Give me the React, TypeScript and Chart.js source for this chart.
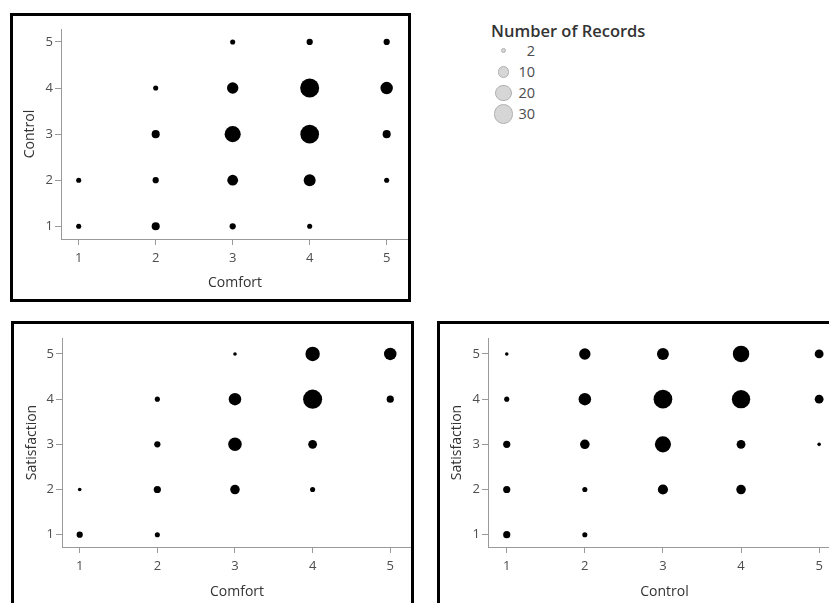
import React, { useEffect, useRef } from "react";
import { Chart, registerables } from "chart.js";

Chart.register(...registerables);

// ---- data ----
const tickValues = [1, 2, 3, 4, 5];

// rows: y level 1..5, columns: x level 1..5 ; values = Number of Records
const comfortControlCounts: (number | null)[][] = [
  [2, 5, 3, 2, null], // Control 1
  [2, 3, 9, 11, 2], // Control 2
  [null, 5, 20, 27, 5], // Control 3
  [null, 2, 10, 28, 12], // Control 4
  [null, null, 2, 3, 3], // Control 5
];

const comfortSatisfactionCounts: (number | null)[][] = [
  [3, 2, null, null, null], // Satisfaction 1
  [1, 4, 7, 2, null], // Satisfaction 2
  [null, 3, 14, 6, null], // Satisfaction 3
  [null, 2, 12, 28, 4], // Satisfaction 4
  [null, null, 1, 16, 12], // Satisfaction 5
];

const controlSatisfactionCounts: (number | null)[][] = [
  [4, 2, null, null, null], // Satisfaction 1
  [4, 2, 8, 7, null], // Satisfaction 2
  [4, 7, 20, 6, 1], // Satisfaction 3
  [2, 12, 27, 26, 6], // Satisfaction 4
  [1, 10, 11, 21, 6], // Satisfaction 5
];

const legendTitle = "Number of Records";
const legendValues = [2, 10, 20, 30];

// ---- styling ----
const FONT = "'Open Sans', 'Noto Sans', sans-serif";
const AXIS_COLOR = "#9a9a9a";
const TICK_COLOR = "#4d4d4d";
const TITLE_COLOR = "#333333";
const sizeOf = (n: number) => 1.8 * Math.sqrt(n);

function toPoints(matrix: (number | null)[][]) {
  const pts: { x: number; y: number; r: number }[] = [];
  matrix.forEach((row, yi) =>
    row.forEach((n, xi) => {
      if (n != null) pts.push({ x: tickValues[xi], y: tickValues[yi], r: sizeOf(n) });
    })
  );
  return pts;
}

type Spec = {
  counts: (number | null)[][];
  xTitle: string;
  yTitle: string;
  left: number;
  top: number;
  width: number;
  height: number;
  xMin: number;
  xMax: number;
  yMin: number;
  yMax: number;
  padTop: number;
  padRight: number;
  yAxisWidth: number;
  xAxisHeight: number;
  yTitlePad: number;
  xTitlePad: number;
};

function BubbleChart({ spec }: { spec: Spec }) {
  const ref = useRef<HTMLCanvasElement>(null);
  useEffect(() => {
    const setTicks = (axis: any) => {
      axis.ticks = tickValues.map((v) => ({ value: v }));
    };
    const chart = new Chart(ref.current!, {
      type: "bubble",
      data: {
        datasets: [
          {
            data: toPoints(spec.counts),
            backgroundColor: "#000000",
            borderWidth: 0,
            hoverBorderWidth: 0,
            clip: false as any,
          },
        ],
      },
      options: {
        animation: false,
        responsive: false,
        events: [],
        layout: {
          autoPadding: false,
          padding: { top: spec.padTop, right: spec.padRight, left: 0, bottom: 0 },
        },
        plugins: { legend: { display: false }, tooltip: { enabled: false } },
        scales: {
          x: {
            type: "linear",
            min: spec.xMin,
            max: spec.xMax,
            afterBuildTicks: setTicks,
            afterFit: (s: any) => {
              s.height = spec.xAxisHeight;
              s.paddingLeft = 0;
              s.paddingRight = 0;
            },
            grid: { drawOnChartArea: false, drawTicks: true, tickLength: 6, color: AXIS_COLOR },
            border: { display: true, color: AXIS_COLOR, width: 1 },
            ticks: {
              font: { family: FONT, size: 13 },
              color: TICK_COLOR,
              padding: 5,
              autoSkip: false,
              maxRotation: 0,
            },
            title: {
              display: true,
              text: spec.xTitle,
              font: { family: FONT, size: 14 },
              color: TITLE_COLOR,
              padding: { top: 0, bottom: spec.xTitlePad },
            },
          },
          y: {
            type: "linear",
            min: spec.yMin,
            max: spec.yMax,
            afterBuildTicks: setTicks,
            afterFit: (s: any) => {
              s.width = spec.yAxisWidth;
              s.paddingTop = 0;
              s.paddingBottom = 0;
            },
            grid: { drawOnChartArea: false, drawTicks: true, tickLength: 6, color: AXIS_COLOR },
            border: { display: true, color: AXIS_COLOR, width: 1 },
            ticks: {
              font: { family: FONT, size: 13 },
              color: TICK_COLOR,
              padding: 2,
              autoSkip: false,
            },
            title: {
              display: true,
              text: spec.yTitle,
              font: { family: FONT, size: 14 },
              color: TITLE_COLOR,
              padding: { top: spec.yTitlePad, bottom: 0 },
            },
          },
        },
      },
    } as any);
    return () => chart.destroy();
  }, [spec]);
  return (
    <canvas
      ref={ref}
      width={spec.width}
      height={spec.height}
      style={{
        position: "absolute",
        left: spec.left,
        top: spec.top,
        width: spec.width,
        height: spec.height,
      }}
    />
  );
}

const specs: Spec[] = [
  {
    counts: comfortControlCounts,
    xTitle: "Comfort",
    yTitle: "Control",
    left: 13,
    top: 16,
    width: 397,
    height: 284,
    xMin: 0.77,
    xMax: 5.29,
    yMin: 0.724,
    yMax: 5.282,
    padTop: 13,
    padRight: 1,
    yAxisWidth: 48,
    xAxisHeight: 61,
    yTitlePad: 9,
    xTitlePad: 8.6,
  },
  {
    counts: comfortSatisfactionCounts,
    xTitle: "Comfort",
    yTitle: "Satisfaction",
    left: 14,
    top: 324,
    width: 398,
    height: 279,
    xMin: 0.772,
    xMax: 5.28,
    yMin: 0.728,
    yMax: 5.353,
    padTop: 14,
    padRight: 0,
    yAxisWidth: 48,
    xAxisHeight: 56,
    yTitlePad: 9.9,
    xTitlePad: 2.9,
  },
  {
    counts: controlSatisfactionCounts,
    xTitle: "Control",
    yTitle: "Satisfaction",
    left: 440,
    top: 324,
    width: 401,
    height: 279,
    xMin: 0.76,
    xMax: 5.28,
    yMin: 0.728,
    yMax: 5.353,
    padTop: 14,
    padRight: 0,
    yAxisWidth: 48,
    xAxisHeight: 56,
    yTitlePad: 9.1,
    xTitlePad: 2.9,
  },
];

const boxes = [
  { left: 10, top: 13, width: 401, height: 289 },
  { left: 11, top: 321, width: 403, height: 300 },
  { left: 437, top: 321, width: 500, height: 300 },
];

function Legend() {
  return (
    <div style={{ position: "absolute", left: 0, top: 0 }}>
      <div
        style={{
          position: "absolute",
          left: 491,
          top: 21,
          height: 20,
          lineHeight: "20px",
          whiteSpace: "nowrap",
          fontFamily: FONT,
          fontWeight: 600,
          fontSize: 16.5,
          color: TITLE_COLOR,
        }}
      >
        {legendTitle}
      </div>
      {legendValues.map((v, i) => {
        const r = sizeOf(v);
        const cy = 50.7 + i * 21.2;
        return (
          <React.Fragment key={v}>
            <div
              style={{
                position: "absolute",
                left: 503.5 - r,
                top: cy - r,
                width: 2 * r,
                height: 2 * r,
                boxSizing: "border-box",
                borderRadius: "50%",
                background: "#d6d6d6",
                border: "1px solid #b0b0b0",
              }}
            />
            <div
              style={{
                position: "absolute",
                left: 505,
                width: 30,
                top: cy - 10,
                height: 20,
                lineHeight: "20px",
                textAlign: "right",
                fontFamily: FONT,
                fontSize: 14.5,
                color: TICK_COLOR,
              }}
            >
              {v}
            </div>
          </React.Fragment>
        );
      })}
    </div>
  );
}

export default function App() {
  return (
    <div
      style={{
        position: "fixed",
        left: 0,
        top: 0,
        width: 829,
        height: 603,
        overflow: "hidden",
        background: "#ffffff",
      }}
    >
      {specs.map((s, i) => (
        <BubbleChart key={i} spec={s} />
      ))}
      {boxes.map((b, i) => (
        <div
          key={i}
          style={{
            position: "absolute",
            left: b.left,
            top: b.top,
            width: b.width,
            height: b.height,
            boxSizing: "border-box",
            border: "3px solid #000",
            pointerEvents: "none",
          }}
        />
      ))}
      <Legend />
    </div>
  );
}
